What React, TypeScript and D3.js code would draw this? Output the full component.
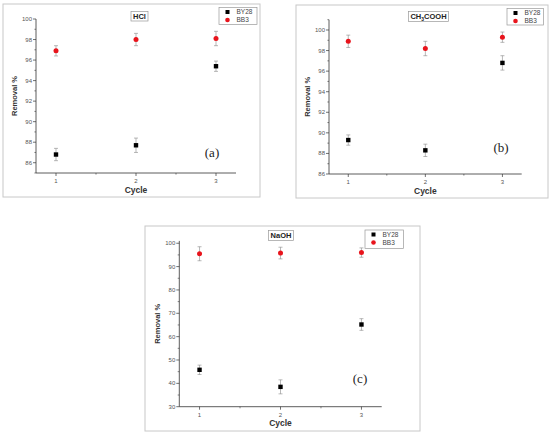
import React from "react";
import * as d3 from "d3";

const cycles = [1, 2, 3];
const seriesNames = ["BY28", "BB3"];

const hclBY28 = [86.8, 87.7, 95.4];
const hclBY28Err = [0.6, 0.7, 0.5];
const hclBB3 = [96.9, 98.0, 98.1];
const hclBB3Err = [0.5, 0.6, 0.7];

const aceBY28 = [89.3, 88.3, 96.8];
const aceBY28Err = [0.5, 0.6, 0.7];
const aceBB3 = [98.9, 98.2, 99.3];
const aceBB3Err = [0.6, 0.7, 0.5];

const naohBY28 = [45.8, 38.5, 65.2];
const naohBY28Err = [2.0, 3.0, 2.5];
const naohBB3 = [95.5, 95.8, 96.0];
const naohBB3Err = [3.0, 2.5, 2.0];

const hclTicks = [86, 88, 90, 92, 94, 96, 98, 100];
const aceTicks = [86, 88, 90, 92, 94, 96, 98, 100];
const naohTicks = [30, 40, 50, 60, 70, 80, 90, 100];

type PanelCfg = {
  frame: [number, number, number, number];
  px: [number, number];
  py: [number, number];
  yDomain: [number, number];
  ticks: number[];
  minorStep: number;
  by28: number[];
  by28Err: number[];
  bb3: number[];
  bb3Err: number[];
  title: React.ReactNode;
  titleBox: [number, number, number, number];
  legend: [number, number, number, number];
  letter: string;
  letterPos: [number, number];
};

const FONT = "Liberation Sans, Arial, sans-serif";

function Panel({ c }: { c: PanelCfg }) {
  const x = d3.scaleLinear().domain([0.75, 3.25]).range(c.px);
  const y = d3.scaleLinear().domain(c.yDomain).range(c.py);
  const [fx0, fy0, fx1, fy1] = c.frame;
  const minor: number[] = [];
  for (let v = c.yDomain[0]; v <= c.yDomain[1] + 1e-9; v += c.minorStep) {
    if (!c.ticks.some((t) => Math.abs(t - v) < 1e-9)) minor.push(v);
  }
  const xMinor = [1.5, 2.5];
  const bottom = c.py[0];
  const left = c.px[0];
  const errBar = (cx: number, v: number, e: number, key: string) => (
    <g key={key} stroke="#888" strokeWidth={0.6}>
      <line x1={cx} x2={cx} y1={y(v - e)} y2={y(v + e)} />
      <line x1={cx - 2} x2={cx + 2} y1={y(v - e)} y2={y(v - e)} />
      <line x1={cx - 2} x2={cx + 2} y1={y(v + e)} y2={y(v + e)} />
    </g>
  );
  const [lx0, ly0, lx1, ly1] = c.legend;
  const [tx0, ty0, tx1, ty1] = c.titleBox;
  return (
    <g>
      <rect x={fx0} y={fy0} width={fx1 - fx0} height={fy1 - fy0} fill="white" stroke="#c8c8c8" strokeWidth={1} />
      <line x1={left} x2={left} y1={c.py[1]} y2={bottom} stroke="#333" strokeWidth={0.8} />
      <line x1={left} x2={c.px[1]} y1={bottom} y2={bottom} stroke="#333" strokeWidth={0.8} />
      {c.ticks.map((t) => (
        <g key={"yt" + t}>
          <line x1={left - 3} x2={left} y1={y(t)} y2={y(t)} stroke="#333" strokeWidth={0.7} />
          <text x={left - 4} y={y(t) + 2} fontSize={6} fill="#555" textAnchor="end" fontFamily={FONT}>{t}</text>
        </g>
      ))}
      {minor.map((t) => (
        <line key={"ym" + t} x1={left - 1.6} x2={left} y1={y(t)} y2={y(t)} stroke="#333" strokeWidth={0.6} />
      ))}
      {cycles.map((cv) => (
        <g key={"xt" + cv}>
          <line x1={x(cv)} x2={x(cv)} y1={bottom} y2={bottom + 3} stroke="#333" strokeWidth={0.7} />
          <text x={x(cv)} y={bottom + 10} fontSize={6} fill="#555" textAnchor="middle" fontFamily={FONT}>{cv}</text>
        </g>
      ))}
      {xMinor.map((t) => (
        <line key={"xm" + t} x1={x(t)} x2={x(t)} y1={bottom} y2={bottom + 1.6} stroke="#333" strokeWidth={0.6} />
      ))}
      <text x={(c.px[0] + c.px[1]) / 2} y={bottom + 19.5} fontSize={8.5} fontWeight="bold" fill="#333" textAnchor="middle" fontFamily={FONT}>Cycle</text>
      <text transform={`translate(${left - 19},${(c.py[0] + c.py[1]) / 2}) rotate(-90)`} fontSize={7.5} fontWeight="bold" fill="#333" textAnchor="middle" fontFamily={FONT}>Removal %</text>
      {cycles.map((cv, i) => errBar(x(cv), c.by28[i], c.by28Err[i], "eb" + i))}
      {cycles.map((cv, i) => errBar(x(cv), c.bb3[i], c.bb3Err[i], "er" + i))}
      {cycles.map((cv, i) => (
        <rect key={"sq" + i} x={x(cv) - 2.2} y={y(c.by28[i]) - 2.2} width={4.4} height={4.4} fill="#000" />
      ))}
      {cycles.map((cv, i) => (
        <circle key={"ci" + i} cx={x(cv)} cy={y(c.bb3[i])} r={2.5} fill="#e8141c" />
      ))}
      <rect x={tx0} y={ty0} width={tx1 - tx0} height={ty1 - ty0} fill="white" stroke="#999" strokeWidth={0.7} />
      <text x={(tx0 + tx1) / 2} y={ty1 - 2.2} fontSize={7.5} fontWeight="bold" fill="#222" textAnchor="middle" fontFamily={FONT}>{c.title}</text>
      <rect x={lx0} y={ly0} width={lx1 - lx0} height={ly1 - ly0} fill="white" stroke="#999" strokeWidth={0.7} />
      {seriesNames.map((s, i) => {
        const ly = ly0 + 4.5 + i * 8;
        const mx = lx0 + 8.5;
        return (
          <g key={s}>
            {i === 0 ? (
              <rect x={mx - 2} y={ly - 2} width={4} height={4} fill="#000" />
            ) : (
              <circle cx={mx} cy={ly} r={2.3} fill="#e8141c" />
            )}
            <text x={mx + 9} y={ly + 2.3} fontSize={6.5} fill="#444" fontFamily={FONT}>{s}</text>
          </g>
        );
      })}
      <text x={c.letterPos[0]} y={c.letterPos[1]} fontSize={13} fill="#222" textAnchor="middle" fontFamily="Liberation Serif, serif">{c.letter}</text>
    </g>
  );
}

const panels: PanelCfg[] = [
  {
    frame: [3, 4, 260, 197],
    px: [36, 236],
    py: [173, 19],
    yDomain: [85, 100],
    ticks: hclTicks,
    minorStep: 1,
    by28: hclBY28,
    by28Err: hclBY28Err,
    bb3: hclBB3,
    bb3Err: hclBB3Err,
    title: "HCl",
    titleBox: [131, 11.5, 148, 21],
    legend: [219, 7.5, 257, 24.5],
    letter: "(a)",
    letterPos: [212, 156.5],
  },
  {
    frame: [296, 5, 548, 198],
    px: [329, 521.7],
    py: [174, 19.7],
    yDomain: [86, 101],
    ticks: aceTicks,
    minorStep: 1,
    by28: aceBY28,
    by28Err: aceBY28Err,
    bb3: aceBB3,
    bb3Err: aceBB3Err,
    title: (
      <>
        CH<tspan dy={2} fontSize={5}>3</tspan>
        <tspan dy={-2}>COOH</tspan>
      </>
    ),
    titleBox: [408.5, 11.5, 448.5, 21.5],
    legend: [507, 8.5, 543.5, 25],
    letter: "(b)",
    letterPos: [501, 151.5],
  },
  {
    frame: [145, 226, 420, 431],
    px: [179.3, 381.7],
    py: [406.7, 240.9],
    yDomain: [30, 101],
    ticks: naohTicks,
    minorStep: 5,
    by28: naohBY28,
    by28Err: naohBY28Err,
    bb3: naohBB3,
    bb3Err: naohBB3Err,
    title: "NaOH",
    titleBox: [268.5, 230.5, 293.5, 240.5],
    legend: [365, 230, 403.5, 248.5],
    letter: "(c)",
    letterPos: [360, 382.5],
  },
];

export default function App() {
  return (
    <svg
      width={550}
      height={437}
      style={{ position: "absolute", left: 0, top: 0, background: "white" }}
    >
      <rect x={0} y={0} width={550} height={437} fill="white" />
      {panels.map((p, i) => (
        <Panel key={i} c={p} />
      ))}
    </svg>
  );
}
